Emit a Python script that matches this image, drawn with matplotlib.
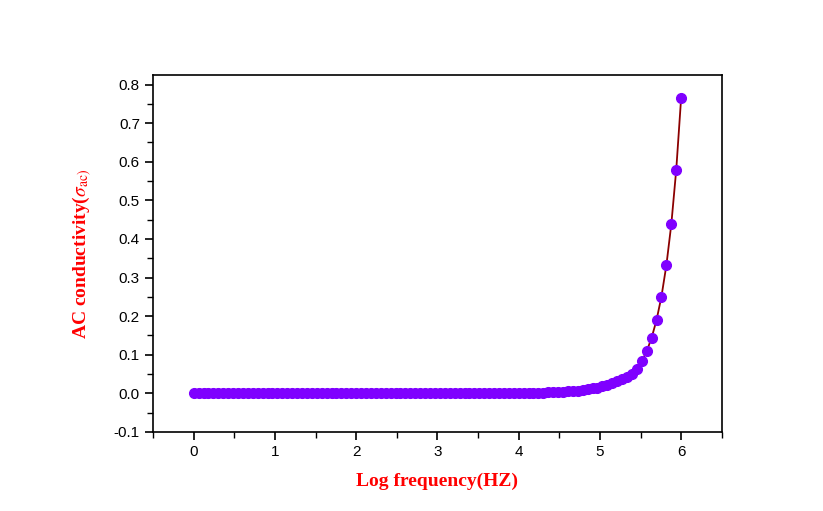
import matplotlib
matplotlib.use("Agg")
import matplotlib.pyplot as plt
import numpy as np
from matplotlib.ticker import MultipleLocator

# log frequency, 100 evenly spaced points from 0 to 6
log_freq = np.linspace(0, 6, 100)

# AC conductivity (flat near zero, then rising)
sigma_tail = [0.0006, 0.0008, 0.0010, 0.0013, 0.0016, 0.0020, 0.0024, 0.0029,
              0.0035, 0.0042, 0.0050, 0.0060, 0.0072, 0.0085, 0.011, 0.013,
              0.015, 0.018, 0.022, 0.026, 0.031, 0.037, 0.043, 0.050, 0.063,
              0.083, 0.109, 0.144, 0.190, 0.251, 0.332, 0.438, 0.579, 0.766]
sigma_ac = [0.0] * (100 - len(sigma_tail)) + sigma_tail

plt.rcParams["mathtext.fontset"] = "stix"

fig = plt.figure(figsize=(8.23, 5.11), dpi=100)
ax = fig.add_axes([0.186, 0.1546, 0.691, 0.698])

ax.plot(log_freq, sigma_ac, color="#8b0000", lw=1.3, marker="o",
        markersize=7, markerfacecolor="#7f00ff", markeredgecolor="#7f00ff")

ax.set_xlim(-0.5, 6.5)
ax.set_ylim(-0.1, 0.824)
ax.xaxis.set_major_locator(MultipleLocator(1))
ax.xaxis.set_minor_locator(MultipleLocator(0.5))
ax.yaxis.set_major_locator(MultipleLocator(0.1))
ax.yaxis.set_minor_locator(MultipleLocator(0.05))
ax.tick_params(which="major", direction="out", length=6, width=1.2,
               labelsize=11)
ax.tick_params(which="minor", direction="out", length=4, width=1.0)
for lbl in ax.get_xticklabels() + ax.get_yticklabels():
    lbl.set_family("Liberation Sans")
ax.yaxis.set_major_formatter(matplotlib.ticker.FormatStrFormatter("%.1f"))
for s in ax.spines.values():
    s.set_linewidth(1.2)

ax.set_xlabel("Log frequency(HZ)", color="red", fontsize=14,
              fontweight="bold", family="Liberation Serif", labelpad=10)
ax.set_ylabel(r"AC conductivity($\sigma_{\mathrm{ac)}}$", color="red",
              fontsize=14, fontweight="bold", family="Liberation Serif",
              labelpad=14)

fig.savefig("out.png", dpi=100)
